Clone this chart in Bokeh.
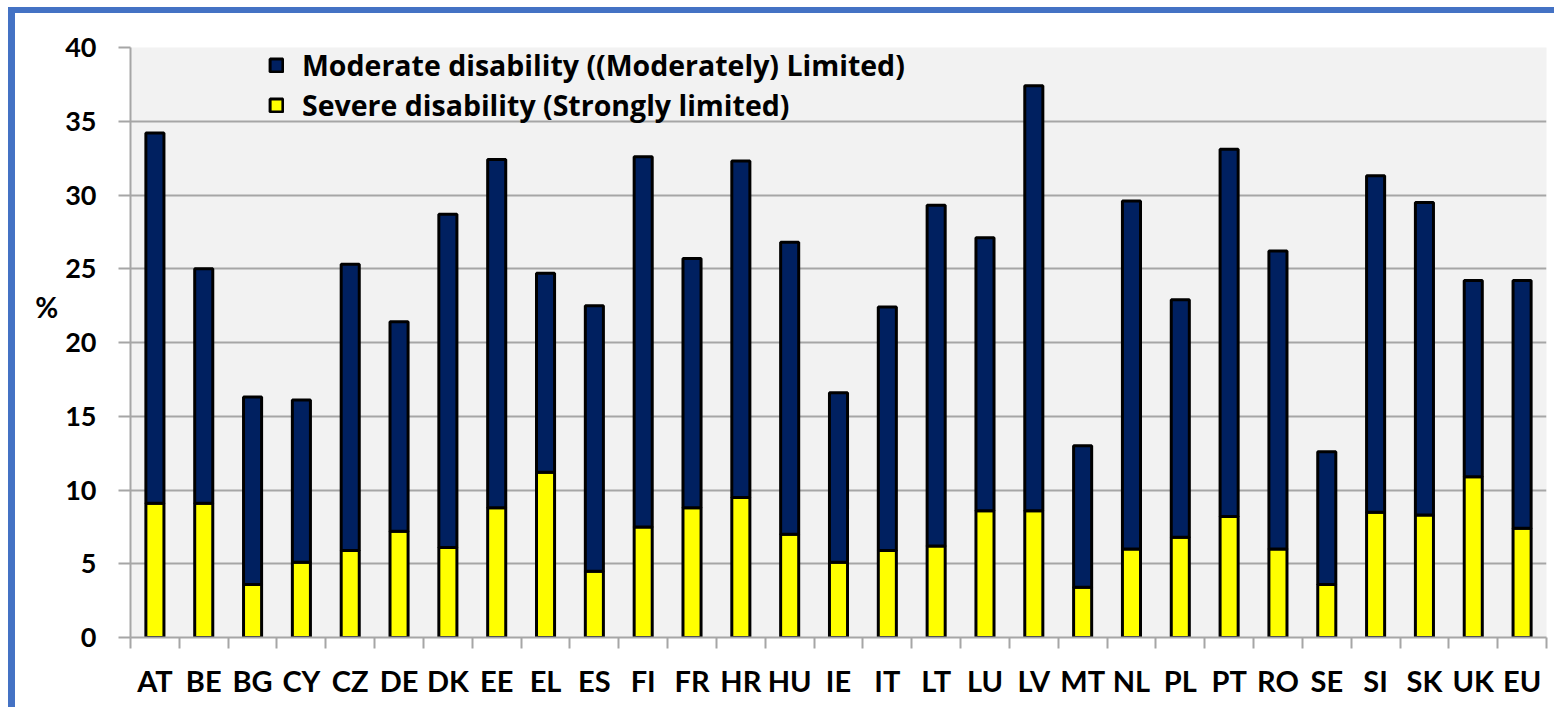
from bokeh.plotting import figure
from bokeh.models import (Range1d, FixedTicker, Legend, LegendItem, ColumnDataSource, Div)
from bokeh.layouts import column, row
from bokeh.embed import file_html
from bokeh.resources import INLINE

countries = ["AT", "BE", "BG", "CY", "CZ", "DE", "DK", "EE", "EL", "ES", "FI", "FR", "HR", "HU", "IE",
             "IT", "LT", "LU", "LV", "MT", "NL", "PL", "PT", "RO", "SE", "SI", "SK", "UK", "EU"]
severe = [9.1, 9.1, 3.6, 5.1, 5.9, 7.2, 6.1, 8.8, 11.2, 4.5, 7.5, 8.8, 9.5, 7.0, 5.1,
          5.9, 6.2, 8.6, 8.6, 3.4, 6.0, 6.8, 8.2, 6.0, 3.6, 8.5, 8.3, 10.9, 7.4]
moderate = [25.1, 15.9, 12.7, 11.0, 19.4, 14.2, 22.6, 23.6, 13.5, 18.0, 25.1, 16.9, 22.8, 19.8, 11.5,
            16.5, 23.1, 18.5, 28.8, 9.6, 23.6, 16.1, 24.9, 20.2, 9.0, 22.8, 21.2, 13.3, 16.8]
y_ticks = [0, 5, 10, 15, 20, 25, 30, 35, 40]
series_names = ["Moderate disability ((Moderately) Limited)", "Severe disability (Strongly limited)"]

FONT = "Lato"
LEG_FONT = "Open Sans"
BLUE = "#4472C4"
TOTAL_W = 1554
W, H = 1539, 694
ML, MR, MT, MB = 115, 8, 34, 70

pos = list(range(len(countries)))
src = ColumnDataSource(dict(x=pos, severe=severe, moderate=moderate))

p = figure(width=W, height=H, output_backend="svg", toolbar_location=None,
           x_range=Range1d(-0.5, len(countries) - 0.5), y_range=Range1d(0, 40),
           min_border_left=ML, min_border_right=MR, min_border_top=MT, min_border_bottom=MB)
p.background_fill_color = "#F2F2F2"
p.border_fill_color = "white"
p.outline_line_color = None

rs = p.vbar_stack(["severe", "moderate"], x="x", width=0.37, source=src,
                  fill_color=["#FFFF00", "#002060"], line_color="black", line_width=3)

# x axis: labels at bar centres, tick marks between categories
xa = p.xaxis[0]
xa.ticker = FixedTicker(ticks=pos, minor_ticks=[i - 0.5 for i in range(len(countries) + 1)])
xa.major_label_overrides = {i: c for i, c in enumerate(countries)}
xa.major_tick_in = 0
xa.major_tick_out = 0
xa.minor_tick_in = 0
xa.minor_tick_out = 11
xa.minor_tick_line_color = "#A6A6A6"
xa.minor_tick_line_width = 2
xa.axis_line_color = "#A6A6A6"
xa.axis_line_width = 2
xa.major_label_text_font = FONT
xa.major_label_text_font_style = "bold"
xa.major_label_text_font_size = "29px"
xa.major_label_text_color = "black"
xa.major_label_standoff = 14

ya = p.yaxis[0]
ya.ticker = FixedTicker(ticks=y_ticks)
ya.major_tick_in = 0
ya.major_tick_out = 12
ya.minor_tick_line_color = None
ya.major_tick_line_color = "#A6A6A6"
ya.major_tick_line_width = 2
ya.axis_line_color = "#A6A6A6"
ya.axis_line_width = 2
ya.major_label_text_font = FONT
ya.major_label_text_font_style = "bold"
ya.major_label_text_font_size = "27px"
ya.major_label_text_color = "black"
ya.major_label_standoff = 22
ya.axis_label = "%\n \n "
ya.axis_label_orientation = "horizontal"
ya.axis_label_text_font = FONT
ya.axis_label_text_font_style = "bold"
ya.axis_label_text_font_size = "28px"
ya.axis_label_text_line_height = 1.05
ya.axis_label_text_color = "black"
ya.axis_label_standoff = 4

p.xgrid.grid_line_color = None
p.ygrid.ticker = FixedTicker(ticks=y_ticks)
p.ygrid.grid_line_color = "#A6A6A6"
p.ygrid.grid_line_width = 2

# legend (kept just inside the plot area)
legend = Legend(items=[LegendItem(label=series_names[0], renderers=[rs[1]]),
                       LegendItem(label=series_names[1], renderers=[rs[0]])],
                location=(138, 513), orientation="vertical",
                glyph_width=16, glyph_height=16, label_height=26, spacing=2,
                label_standoff=18, padding=0, margin=0,
                label_text_font=LEG_FONT, label_text_font_style="bold",
                label_text_font_size="28.5px", label_text_color="black",
                background_fill_alpha=0, border_line_alpha=0)
p.add_layout(legend, "center")

# blue frame (left and top edges) around the chart
def box(w, h, color):
    return Div(text="", width=w, height=h, margin=0,
               styles={"background-color": color})

layout = column(
    box(TOTAL_W, 7, "white"),
    row(box(8, 6, "white"), box(TOTAL_W - 8, 6, BLUE), spacing=0),
    row(box(8, H, "white"), box(7, H, BLUE), p, spacing=0),
    spacing=0,
)

open("out.html", "w").write(file_html(layout, INLINE))
